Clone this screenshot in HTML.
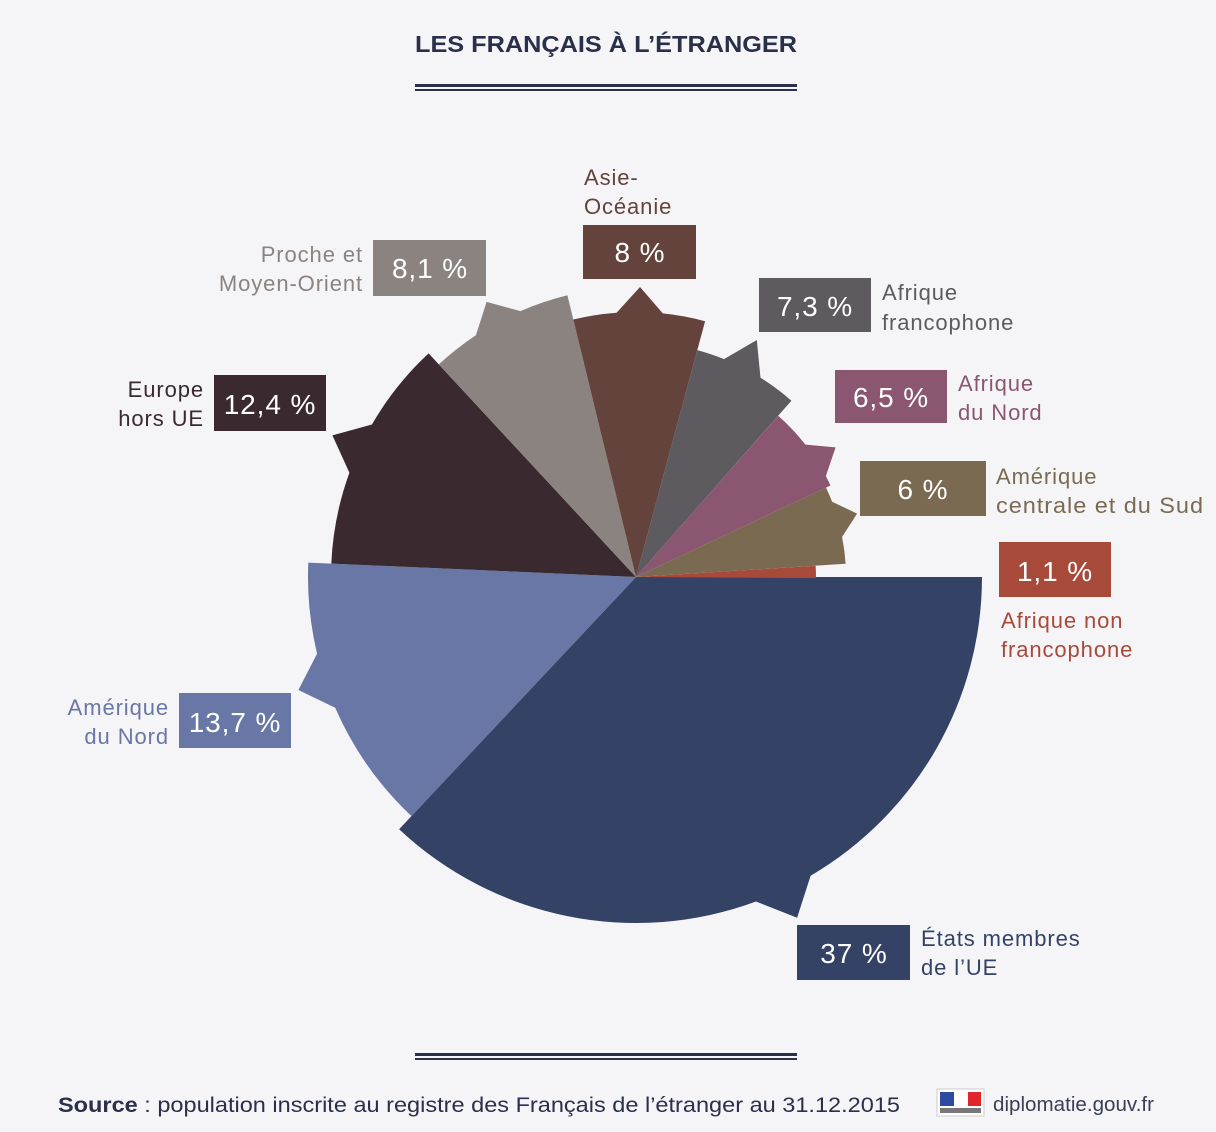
<!DOCTYPE html>
<html><head><meta charset="utf-8">
<style>
body{margin:0;background:#f5f5f8;width:1216px;height:1132px;overflow:hidden;font-family:"Liberation Sans","DejaVu Sans",sans-serif}
</style></head>
<body>
<svg id="s" width="1216" height="1132" xmlns="http://www.w3.org/2000/svg" style="position:absolute;left:0;top:0">
<rect width="1216" height="1132" fill="#f5f5f8"/>
<text x="415" y="52" textLength="382" lengthAdjust="spacingAndGlyphs" font-size="23" font-weight="bold" fill="#2a2f4a" font-family="Liberation Sans, sans-serif">LES FRANÇAIS À L’ÉTRANGER</text>
<rect x="415" y="84" width="382" height="3" fill="#2a2f4a"/><rect x="415" y="89" width="382" height="2" fill="#2a2f4a"/>
<rect x="415" y="1053" width="382" height="3" fill="#2a2f4a"/><rect x="415" y="1058" width="382" height="2" fill="#2a2f4a"/>
<g id="pie"></g>
<g font-family="Liberation Sans, sans-serif" font-size="22" letter-spacing="0.9">
<rect x="373" y="240" width="113" height="56" fill="#8b8380"/><text x="430" y="278" fill="#fff" font-size="28" text-anchor="middle">8,1 %</text>
<text x="363" y="262" fill="#8b8380" text-anchor="end">Proche et</text><text x="363" y="291" fill="#8b8380" text-anchor="end">Moyen-Orient</text>
<rect x="583" y="225" width="113" height="54" fill="#63433b"/><text x="640" y="262" fill="#fff" font-size="28" text-anchor="middle">8 %</text>
<text x="584" y="185" fill="#63433b">Asie-</text><text x="584" y="214" fill="#63433b">Océanie</text>
<rect x="759" y="278" width="112" height="54" fill="#5d5a60"/><text x="815" y="316" fill="#fff" font-size="28" text-anchor="middle">7,3 %</text>
<text x="882" y="300" fill="#5d5a60">Afrique</text><text x="882" y="330" fill="#5d5a60">francophone</text>
<rect x="835" y="370" width="112" height="53" fill="#8a5670"/><text x="891" y="407" fill="#fff" font-size="28" text-anchor="middle">6,5 %</text>
<text x="958" y="391" fill="#8a5670">Afrique</text><text x="958" y="420" fill="#8a5670">du Nord</text>
<rect x="860" y="461" width="126" height="55" fill="#7b6a52"/><text x="923" y="499" fill="#fff" font-size="28" text-anchor="middle">6 %</text>
<text x="996" y="484" fill="#7b6a52">Amérique</text><text x="996" y="513" fill="#7b6a52" textLength="208" lengthAdjust="spacingAndGlyphs">centrale et du Sud</text>
<rect x="999" y="542" width="112" height="55" fill="#a84a3a"/><text x="1055" y="581" fill="#fff" font-size="28" text-anchor="middle">1,1 %</text>
<text x="1001" y="628" fill="#a84a3a">Afrique non</text><text x="1001" y="657" fill="#a84a3a">francophone</text>
<rect x="797" y="925" width="113" height="55" fill="#344266"/><text x="854" y="963" fill="#fff" font-size="28" text-anchor="middle">37 %</text>
<text x="921" y="946" fill="#344266">États membres</text><text x="921" y="975" fill="#344266">de l’UE</text>
<rect x="179" y="693" width="112" height="55" fill="#6877a5"/><text x="235" y="732" fill="#fff" font-size="28" text-anchor="middle">13,7 %</text>
<text x="169" y="715" fill="#6877a5" text-anchor="end">Amérique</text><text x="169" y="744" fill="#6877a5" text-anchor="end">du Nord</text>
<rect x="214" y="375" width="112" height="56" fill="#3a2a2f"/><text x="270" y="414" fill="#fff" font-size="28" text-anchor="middle">12,4 %</text>
<text x="204" y="397" fill="#3a2a2f" text-anchor="end">Europe</text><text x="204" y="426" fill="#3a2a2f" text-anchor="end">hors UE</text>
</g>
<g font-family="Liberation Sans, sans-serif">
<text x="58" y="1112" fill="#2a2f4a" font-size="21" textLength="842" lengthAdjust="spacingAndGlyphs"><tspan font-weight="bold">Source</tspan> : population inscrite au registre des Français de l’étranger au 31.12.2015</text>
<text x="993" y="1111" fill="#3a3f55" font-size="20" textLength="161" lengthAdjust="spacingAndGlyphs">diplomatie.gouv.fr</text>
</g>
<rect x="937" y="1089" width="47" height="27" fill="#fff" stroke="#ccc"/>
<rect x="940" y="1092" width="14" height="14" fill="#2b4aa0"/><rect x="954" y="1092" width="14" height="14" fill="#fff"/><rect x="968" y="1092" width="13" height="14" fill="#e0262b"/>
<rect x="940" y="1108" width="41" height="5" fill="#777"/>
</svg>
<script>
var cx=636,cy=577;
var d=[[37,346,64.7,377,"#344266"],[13.7,328,161.5,356,"#6877a5"],[12.4,305,205,335,"#3a2a2f"],[8.1,290,241.5,313,"#8b8380"],[8,265,270.8,290,"#63433b"],[7.3,235,297,266,"#5d5a60"],[6.5,215,327,238,"#8a5670"],[6,210,344,230,"#7b6a52"],[1.1,180,null,0,"#a84a3a"]];
function P(a,r){a=a*Math.PI/180;return (cx+r*Math.cos(a)).toFixed(1)+","+(cy+r*Math.sin(a)).toFixed(1);}
var s=0,h="";
d.forEach(function(e){var span=e[0]*3.6,en=s+span,r=e[1],p="M"+cx+","+cy+" L"+P(s,r);
if(e[2]!==null){var a1=e[2]-5,a2=e[2]+5;p+=" A"+r+","+r+" 0 0 1 "+P(a1,r)+" L"+P(e[2],e[3])+" L"+P(a2,r)+" A"+r+","+r+" 0 0 1 "+P(en,r);}
else p+=" A"+r+","+r+" 0 0 1 "+P(en,r);
p+=" Z";h+='<path d="'+p+'" fill="'+e[4]+'"/>';s=en;});
document.getElementById("pie").innerHTML=h;
</script>
</body></html>
